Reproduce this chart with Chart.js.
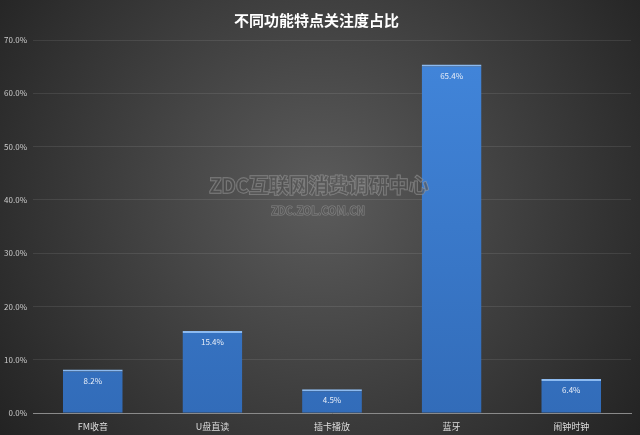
<!DOCTYPE html>
<html>
<head>
<meta charset="utf-8">
<script src="https://cdn.jsdelivr.net/npm/chart.js@4"></script>
<style>
  html, body { margin: 0; padding: 0; background: #2b2b2b; }
  #wrap { width: 640px; height: 435px; }
</style>
</head>
<body>
<div id="wrap"><canvas id="myChart"></canvas></div>
<script>
// chart data
var categories = ['FM收音', 'U盘直读', '插卡播放', '蓝牙', '闹钟时钟'];
var shareValues = [8.2, 15.4, 4.5, 65.4, 6.4];
var yTicks = [0, 10, 20, 30, 40, 50, 60, 70];

var font = '"Noto Sans CJK SC", "Open Sans", sans-serif';

// dark radial background + watermark
var backdrop = {
    id: 'backdrop',
    beforeDraw: function (chart) {
        var c = chart.ctx, w = chart.width, h = chart.height;
        var g = c.createRadialGradient(w / 2, h * 0.45, 10, w / 2, h * 0.45, w * 0.62);
        g.addColorStop(0, '#5a5a5a');
        g.addColorStop(1, '#232323');
        c.save();
        c.fillStyle = g;
        c.fillRect(0, 0, w, h);
        c.restore();
    },
    afterDatasetsDraw: function (chart) {
        var c = chart.ctx;
        c.save();
        c.textAlign = 'center';
        c.textBaseline = 'middle';
        c.lineWidth = 1.5;
        c.strokeStyle = 'rgba(160,160,160,0.6)';
        c.fillStyle = 'rgba(70,70,70,0.5)';
        c.font = 'bold 20px ' + font;
        c.strokeText('ZDC互联网消费调研中心', 319, 185);
        c.fillText('ZDC互联网消费调研中心', 319, 185);
        c.font = 'bold 11px ' + font;
        c.lineWidth = 1;
        c.strokeText('ZDC.ZOL.COM.CN', 318, 211);
        c.fillText('ZDC.ZOL.COM.CN', 318, 211);
        c.restore();
    }
};

// value labels just inside the top of each bar
var barLabels = {
    id: 'barLabels',
    afterDatasetsDraw: function (chart) {
        var c = chart.ctx;
        var meta = chart.getDatasetMeta(0);
        c.save();
        c.font = '8px ' + font;
        c.fillStyle = '#e8eef8';
        c.textAlign = 'center';
        c.textBaseline = 'middle';
        meta.data.forEach(function (bar, i) {
            c.fillText(shareValues[i].toFixed(1) + '%', bar.x, bar.y + 11);
        });
        c.restore();
    }
};

var ctx = document.getElementById('myChart').getContext('2d');
var myChart = new Chart(ctx, {
    type: 'bar',
    data: {
        labels: categories,
        datasets: [{
            data: shareValues,
            backgroundColor: function (context) {
                var area = context.chart.chartArea;
                if (!area) return '#3a78c8';
                var g = context.chart.ctx.createLinearGradient(0, area.top, 0, area.bottom);
                g.addColorStop(0, '#4286db');
                g.addColorStop(1, '#326cb9');
                return g;
            },
            borderColor: '#8cbaf0',
            borderWidth: { top: 2, left: 0, right: 0, bottom: 0 },
            borderSkipped: false,
            barPercentage: 0.5,
            categoryPercentage: 1.0
        }]
    },
    options: {
        responsive: true,
        maintainAspectRatio: false,
        animation: false,
        devicePixelRatio: 1,
        layout: { padding: { top: 6, right: 9, left: 2, bottom: 3 } },
        plugins: {
            legend: { display: false },
            tooltip: { enabled: false },
            title: {
                display: true,
                text: '不同功能特点关注度占比',
                color: '#ffffff',
                font: { family: font, size: 15, weight: 'bold' },
                padding: { top: 5, bottom: 11 }
            }
        },
        scales: {
            x: {
                grid: { display: false },
                border: { color: '#8a8a8a', width: 1 },
                ticks: {
                    color: '#dddddd',
                    font: { family: font, size: 9 },
                    padding: 0
                }
            },
            y: {
                min: 0,
                max: 70,
                afterBuildTicks: function (axis) {
                    axis.ticks = yTicks.map(function (v) { return { value: v }; });
                },
                afterFit: function (axis) { axis.width = 31; },
                grid: { color: 'rgba(255,255,255,0.09)', drawTicks: false },
                border: { display: false },
                ticks: {
                    color: '#cccccc',
                    font: { family: font, size: 8 },
                    padding: 6,
                    callback: function (v) { return v.toFixed(1) + '%'; }
                }
            }
        }
    },
    plugins: [backdrop, barLabels]
});
</script>
</body>
</html>
